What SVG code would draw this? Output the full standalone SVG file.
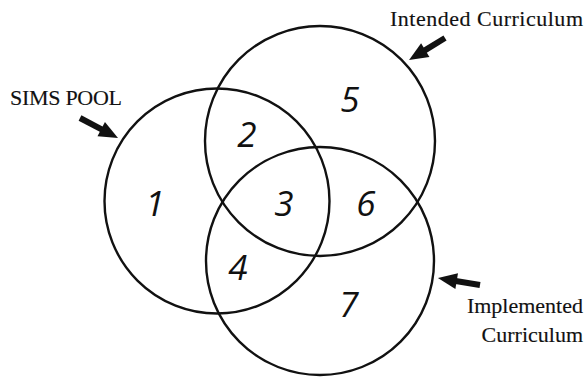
<svg xmlns="http://www.w3.org/2000/svg" width="588" height="380" viewBox="0 0 588 380">
<style>
.c{fill:none;stroke:#111;stroke-width:2.4}
.lbl{font-family:"Liberation Serif","Times New Roman",serif;font-size:22px;fill:#111;stroke:#111;stroke-width:0.15}
.num{font-family:"Open Sans","DejaVu Sans",sans-serif;font-style:italic;font-weight:400;font-size:35px;fill:#111;text-anchor:middle}
.ar{stroke:#111;stroke-width:6;fill:none;marker-end:url(#ah)}
</style>
<defs>
<marker id="ah" markerUnits="userSpaceOnUse" markerWidth="19" markerHeight="16" refX="1" refY="8" orient="auto" viewBox="0 0 19 16" overflow="visible">
<path d="M0,0 L19,8 L0,16 z" fill="#111"/>
</marker>
</defs>
<rect width="588" height="380" fill="#fff"/>
<g id="sims-pool">
<circle class="c" cx="217" cy="201" r="112.5"/>
<text class="lbl" x="10" y="105" textLength="112">SIMS POOL</text>
</g>
<g id="intended-curriculum">
<circle class="c" cx="320" cy="141" r="115"/>
<text class="lbl" x="390" y="26" textLength="193">Intended Curriculum</text>
</g>
<g id="implemented-curriculum">
<circle class="c" cx="320" cy="261" r="114"/>
<text class="lbl" x="583" y="313" text-anchor="end">Implemented</text>
<text class="lbl" x="583" y="342" text-anchor="end">Curriculum</text>
</g>
<g id="regions">
<text class="num" x="155" y="216">1</text>
<text class="num" x="247" y="147">2</text>
<text class="num" x="284" y="216">3</text>
<text class="num" x="238" y="280">4</text>
<text class="num" x="350" y="112">5</text>
<text class="num" x="366" y="216">6</text>
<text class="num" x="349" y="317">7</text>
</g>
<g id="connectors">
<line class="ar" x1="80" y1="118" x2="102.1" y2="129.6"/>
<line class="ar" x1="445" y1="38" x2="424.4" y2="50.6"/>
<line class="ar" x1="480" y1="285" x2="455.7" y2="281"/>
</g>
</svg>
